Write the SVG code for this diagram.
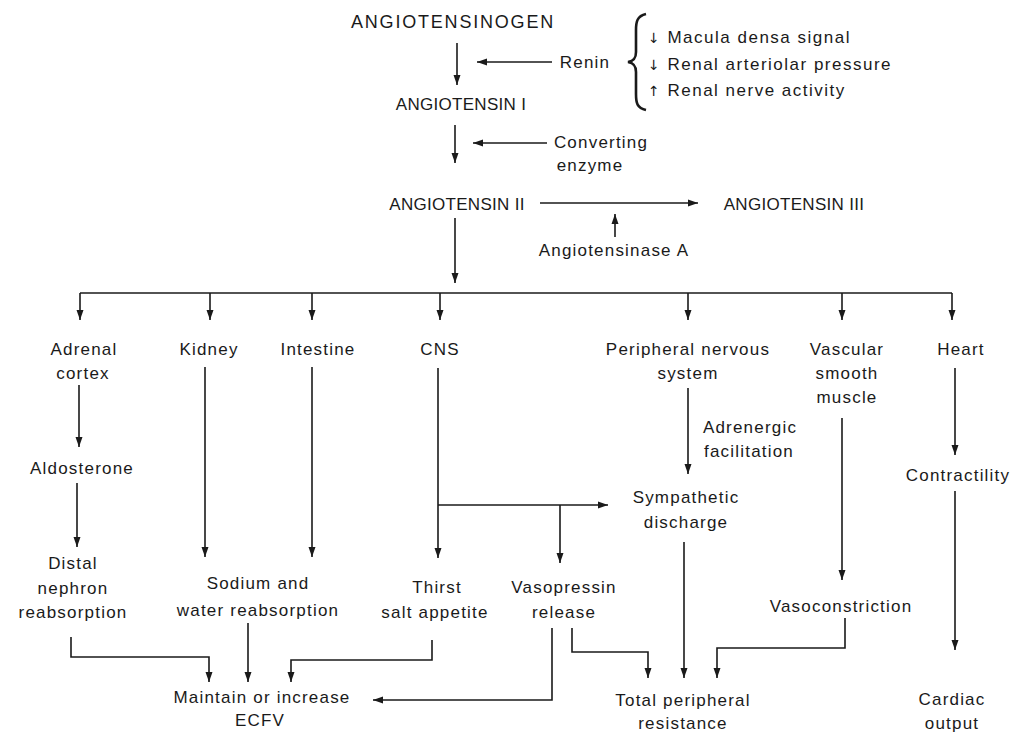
<svg xmlns="http://www.w3.org/2000/svg" width="1012" height="734" viewBox="0 0 1012 734">
<style>
text{font-family:"Liberation Sans",Arial,sans-serif;font-size:17px;fill:#1a1a1a;letter-spacing:1.2px;text-anchor:middle}
.caps{letter-spacing:0.3px}
.big{font-size:18px;letter-spacing:1.8px}
.l{text-anchor:start;letter-spacing:1.5px}
.ar{font-family:"DejaVu Sans",sans-serif;font-size:14px}
.c{fill:none;stroke:#1a1a1a;stroke-width:1.6}
</style>
<defs>
<marker id="ah" markerUnits="userSpaceOnUse" markerWidth="10" markerHeight="8" refX="10" refY="4" orient="auto">
<path d="M0,0.5 L10,4 L0,7.5 z" fill="#1a1a1a"/>
</marker>
</defs>
<rect width="1012" height="734" fill="#fff"/>
<g id="connectors">
<path class="c" d="M457,43 V85" marker-end="url(#ah)"/>
<path class="c" d="M552,62 H477" marker-end="url(#ah)"/>
<path class="c" d="M455,125 V163" marker-end="url(#ah)"/>
<path class="c" d="M547,143 H473" marker-end="url(#ah)"/>
<path class="c" d="M540,203 H698" marker-end="url(#ah)"/>
<path class="c" d="M615,237 V214" marker-end="url(#ah)"/>
<path class="c" d="M455,218 V283" marker-end="url(#ah)"/>
<path class="c" d="M80,293 H952"/>
<path class="c" d="M80,293 V320" marker-end="url(#ah)"/>
<path class="c" d="M210,293 V320" marker-end="url(#ah)"/>
<path class="c" d="M312,293 V320" marker-end="url(#ah)"/>
<path class="c" d="M440,293 V320" marker-end="url(#ah)"/>
<path class="c" d="M688,293 V320" marker-end="url(#ah)"/>
<path class="c" d="M842,293 V320" marker-end="url(#ah)"/>
<path class="c" d="M952,293 V320" marker-end="url(#ah)"/>
<path class="c" d="M79,385 V447" marker-end="url(#ah)"/>
<path class="c" d="M77,483 V547" marker-end="url(#ah)"/>
<path class="c" d="M205,367 V557" marker-end="url(#ah)"/>
<path class="c" d="M312,367 V557" marker-end="url(#ah)"/>
<path class="c" d="M438,368 V558" marker-end="url(#ah)"/>
<path class="c" d="M438,505 H608" marker-end="url(#ah)"/>
<path class="c" d="M560,505 V563" marker-end="url(#ah)"/>
<path class="c" d="M688,388 V474" marker-end="url(#ah)"/>
<path class="c" d="M842,418 V580" marker-end="url(#ah)"/>
<path class="c" d="M955,368 V455" marker-end="url(#ah)"/>
<path class="c" d="M955,491 V650" marker-end="url(#ah)"/>
<path class="c" d="M684,542 V678" marker-end="url(#ah)"/>
<path class="c" d="M845,618 V648 H717 V678" marker-end="url(#ah)"/>
<path class="c" d="M572,628 V652 H648 V678" marker-end="url(#ah)"/>
<path class="c" d="M552,628 V700 H373" marker-end="url(#ah)"/>
<path class="c" d="M71,637 V657 H209 V682" marker-end="url(#ah)"/>
<path class="c" d="M248,623 V682" marker-end="url(#ah)"/>
<path class="c" d="M432,640 V660 H291 V682" marker-end="url(#ah)"/>
</g>
<g id="angiotensinogen"><text class="caps big" x="453" y="28">ANGIOTENSINOGEN</text></g>
<g id="renin"><text x="585" y="68">Renin</text>
<path d="M646,14 C637,16 636,22 636,30 L636,52 C636,58 634,61 628,62 C634,63 636,66 636,72 L636,94 C636,103 637,108 646,110" fill="none" stroke="#1a1a1a" stroke-width="2.6"/></g>
<g id="stimuli">
<text class="l" x="648" y="43"><tspan class="ar">↓</tspan> Macula densa signal</text>
<text class="l" x="648" y="70"><tspan class="ar">↓</tspan> Renal arteriolar pressure</text>
<text class="l" x="648" y="96"><tspan class="ar">↑</tspan> Renal nerve activity</text>
</g>
<g id="angiotensin1"><text class="caps" x="461" y="110">ANGIOTENSIN I</text></g>
<g id="converting"><text x="601" y="148">Converting</text><text x="590" y="171">enzyme</text></g>
<g id="angiotensin2"><text class="caps" x="457" y="210">ANGIOTENSIN II</text></g>
<g id="angiotensin3"><text class="caps" x="794" y="210">ANGIOTENSIN III</text></g>
<g id="angiotensinase"><text x="614" y="256">Angiotensinase A</text></g>
<g id="adrenal"><text x="84" y="355">Adrenal</text><text x="83" y="379">cortex</text></g>
<g id="kidney"><text x="209" y="355">Kidney</text></g>
<g id="intestine"><text x="318" y="355">Intestine</text></g>
<g id="cns"><text x="440" y="355">CNS</text></g>
<g id="pns"><text x="688" y="355">Peripheral nervous</text><text x="688" y="379">system</text></g>
<g id="vascular"><text x="847" y="355">Vascular</text><text x="847" y="379">smooth</text><text x="847" y="403">muscle</text></g>
<g id="heart"><text x="961" y="355">Heart</text></g>
<g id="adrenergic"><text x="750" y="433">Adrenergic</text><text x="749" y="457">facilitation</text></g>
<g id="aldosterone"><text x="82" y="474">Aldosterone</text></g>
<g id="sympathetic"><text x="686" y="503">Sympathetic</text><text x="686" y="528">discharge</text></g>
<g id="contractility"><text x="958" y="481">Contractility</text></g>
<g id="distal"><text x="73" y="569">Distal</text><text x="73" y="594">nephron</text><text x="73" y="618">reabsorption</text></g>
<g id="sodium"><text x="258" y="589">Sodium and</text><text x="258" y="616">water reabsorption</text></g>
<g id="thirst"><text x="437" y="593">Thirst</text><text x="435" y="618">salt appetite</text></g>
<g id="vasopressin"><text x="564" y="593">Vasopressin</text><text x="564" y="618">release</text></g>
<g id="vasoconstriction"><text x="841" y="612">Vasoconstriction</text></g>
<g id="ecfv"><text x="262" y="703">Maintain or increase</text><text x="260" y="726">ECFV</text></g>
<g id="tpr"><text x="683" y="706">Total peripheral</text><text x="683" y="729">resistance</text></g>
<g id="cardiac"><text x="952" y="705">Cardiac</text><text x="952" y="729">output</text></g>
</svg>
